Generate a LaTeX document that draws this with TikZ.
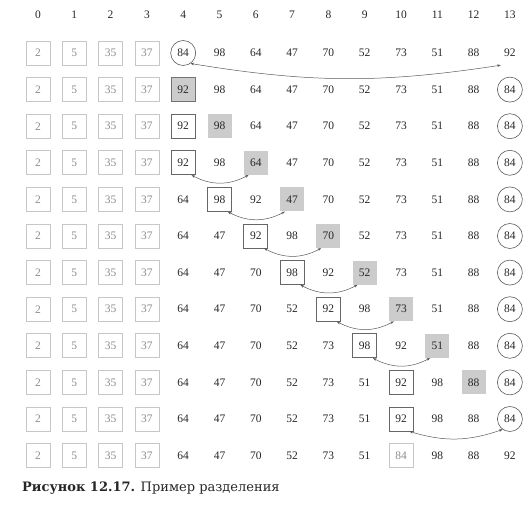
\documentclass[tikz,border=0pt]{standalone}
\usepackage{fontspec}
\setmainfont{Liberation Serif}
\newfontfamily\capfont{DejaVu Serif}
\usetikzlibrary{arrows.meta}
\newcommand\cellrow[2]{%
  \foreach \v/\s [count=\i from 0] in {#2}
    \node[\s] (r#1c\i) at ({38+36.3*\i},{-53-36.6*(#1-1)}) {\v};%
}
\begin{document}
\begin{tikzpicture}[x=1pt,y=1pt,
  cell/.style={minimum size=24pt, inner sep=0pt, font=\fontsize{11.5}{13}\selectfont, text=black!85},
  pl/.style={cell},
  srt/.style={cell, draw=black!22, text=black!45, line width=0.8pt},
  bx/.style={cell, draw=black!60, line width=0.7pt},
  gf/.style={cell, fill=black!20},
  gfb/.style={cell, fill=black!20, draw=black!55, line width=0.7pt},
  circ/.style={cell, circle, draw=black!65, minimum size=25pt, line width=0.6pt},
  hd/.style={cell},
  sw/.style={draw=black!65, line width=0.5pt, {Stealth[length=3.5pt,width=2.6pt]}-{Stealth[length=3.5pt,width=2.6pt]}}
]
\useasboundingbox (0,0) rectangle (532,-514);
\foreach \i in {0,...,13} \node[hd] (h\i) at ({38+36.3*\i},-15) {\i};

\cellrow{1}{2/srt,5/srt,35/srt,37/srt,84/circ,98/pl,64/pl,47/pl,70/pl,52/pl,73/pl,51/pl,88/pl,92/pl}
\cellrow{2}{2/srt,5/srt,35/srt,37/srt,92/gfb,98/pl,64/pl,47/pl,70/pl,52/pl,73/pl,51/pl,88/pl,84/circ}
\cellrow{3}{2/srt,5/srt,35/srt,37/srt,92/bx,98/gf,64/pl,47/pl,70/pl,52/pl,73/pl,51/pl,88/pl,84/circ}
\cellrow{4}{2/srt,5/srt,35/srt,37/srt,92/bx,98/pl,64/gf,47/pl,70/pl,52/pl,73/pl,51/pl,88/pl,84/circ}
\cellrow{5}{2/srt,5/srt,35/srt,37/srt,64/pl,98/bx,92/pl,47/gf,70/pl,52/pl,73/pl,51/pl,88/pl,84/circ}
\cellrow{6}{2/srt,5/srt,35/srt,37/srt,64/pl,47/pl,92/bx,98/pl,70/gf,52/pl,73/pl,51/pl,88/pl,84/circ}
\cellrow{7}{2/srt,5/srt,35/srt,37/srt,64/pl,47/pl,70/pl,98/bx,92/pl,52/gf,73/pl,51/pl,88/pl,84/circ}
\cellrow{8}{2/srt,5/srt,35/srt,37/srt,64/pl,47/pl,70/pl,52/pl,92/bx,98/pl,73/gf,51/pl,88/pl,84/circ}
\cellrow{9}{2/srt,5/srt,35/srt,37/srt,64/pl,47/pl,70/pl,52/pl,73/pl,98/bx,92/pl,51/gf,88/pl,84/circ}
\cellrow{10}{2/srt,5/srt,35/srt,37/srt,64/pl,47/pl,70/pl,52/pl,73/pl,51/pl,92/bx,98/pl,88/gf,84/circ}
\cellrow{11}{2/srt,5/srt,35/srt,37/srt,64/pl,47/pl,70/pl,52/pl,73/pl,51/pl,92/bx,98/pl,88/pl,84/circ}
\cellrow{12}{2/srt,5/srt,35/srt,37/srt,64/pl,47/pl,70/pl,52/pl,73/pl,51/pl,84/srt,98/pl,88/pl,92/pl}

\draw[sw] (r1c4.-55) to[bend right=9] ([xshift=3pt]r1c13.south west);
\draw[sw] ([xshift=-4pt]r4c4.south east) to[bend right=28] ([xshift=5pt]r4c6.south west);
\draw[sw] ([xshift=-4pt]r5c5.south east) to[bend right=28] ([xshift=5pt]r5c7.south west);
\draw[sw] ([xshift=-4pt]r6c6.south east) to[bend right=28] ([xshift=5pt]r6c8.south west);
\draw[sw] ([xshift=-4pt]r7c7.south east) to[bend right=28] ([xshift=5pt]r7c9.south west);
\draw[sw] ([xshift=-4pt]r8c8.south east) to[bend right=28] ([xshift=5pt]r8c10.south west);
\draw[sw] ([xshift=-4pt]r9c9.south east) to[bend right=28] ([xshift=5pt]r9c11.south west);
\draw[sw] ([xshift=-4pt]r11c10.south east) to[bend right=18] (r11c13.-125);

\node[anchor=west, inner sep=0pt, text=black!85] (cap) at (22,-488) {\capfont\fontsize{13}{15}\selectfont\textbf{Рисунок 12.17.} Пример разделения};
\end{tikzpicture}
\end{document}
